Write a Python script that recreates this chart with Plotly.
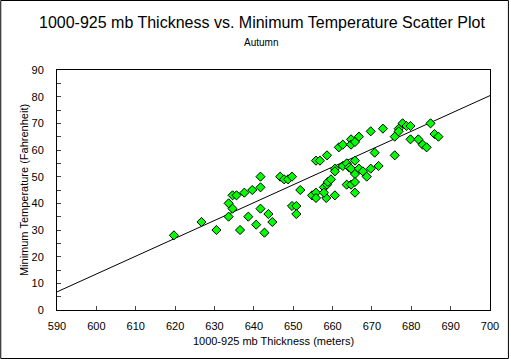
import plotly.graph_objects as go

thickness_m = [619.7, 626.7, 630.5, 633.6, 634.6, 635.6, 634.6, 633.6, 637.6, 639.6,
               641.7, 641.7, 636.5, 638.6, 640.6, 641.7, 643.7, 644.7, 642.7, 646.7,
               647.7, 648.7, 649.7, 651.8, 654.8, 655.8, 655.8, 657.8, 658.6, 658.8,
               659.6, 658.4, 657.8, 660.6, 655.8, 656.8, 658.6, 660.6, 660.6, 661.6,
               662.6, 664.7, 664.7, 665.7, 666.7, 669.7, 672.8, 662.6, 663.6, 664.2,
               664.7, 665.7, 665.7, 666.7, 667.7, 668.7, 669.7, 670.7, 671.7, 663.6,
               664.7, 665.7, 665.7, 649.7, 650.8, 650.8, 677.8, 678.8, 679.8, 676.8,
               676.8, 675.8, 684.9, 679.8, 681.8, 682.9, 683.9, 685.9, 686.9, 675.8]
min_temp_f = [28, 33, 30, 40, 43, 43, 38, 35, 44, 45,
              50, 46, 30, 35, 32, 38, 36, 33, 29, 50,
              49, 49, 50, 45, 43, 44, 42, 46, 47, 48,
              49, 42, 44, 43, 56, 56, 58, 53, 52, 61,
              62, 64, 62, 63, 65, 67, 68, 54, 55, 53.5,
              53, 56, 51, 53, 52, 50, 53, 59, 54, 47,
              47, 48, 44, 39, 39, 36, 70, 69, 69, 68,
              67, 65, 70, 64, 64, 62, 61, 66, 65, 58]

trend_x = [590, 700]
trend_y = [6.8, 80.4]

x_ticks = list(range(590, 701, 10))
y_ticks = list(range(0, 91, 10))

FONT = "Liberation Sans, Arial, sans-serif"
W, H = 511, 359
ML, MR, MT, MB = 57, 19, 70, 49
PW, PH = W - ML - MR, H - MT - MB

fig = go.Figure()
fig.add_trace(go.Scatter(x=trend_x, y=trend_y, mode="lines",
                         line=dict(color="black", width=1), hoverinfo="skip"))
fig.add_trace(go.Scatter(x=thickness_m, y=min_temp_f, mode="markers",
                         marker=dict(symbol="diamond", size=7, color="#00ff00",
                                     line=dict(color="#000000", width=1))))

fig.update_layout(
    width=W, height=H, showlegend=False,
    margin=dict(l=ML, r=MR, t=MT, b=MB, pad=0),
    paper_bgcolor="white", plot_bgcolor="white",
    font=dict(family=FONT, size=11, color="black"),
    xaxis=dict(range=[590, 700], tickvals=x_ticks, ticks="inside", ticklen=4,
               showline=True, linecolor="black", linewidth=1, mirror=True,
               showgrid=False, zeroline=False, ticklabelstandoff=6,
               title=dict(text="1000-925 mb Thickness (meters)", standoff=6,
                          font=dict(size=11))),
    yaxis=dict(range=[0, 90], tickvals=y_ticks, ticks="inside", ticklen=4,
               showline=True, linecolor="black", linewidth=1, mirror=True,
               showgrid=False, zeroline=False, ticklabelstandoff=10,
               minor=dict(dtick=5, ticks="inside", ticklen=4, showgrid=False),
               title=dict(text="Minimum Temperature (Fahrenheit)", standoff=0,
                          font=dict(size=11))),
    annotations=[
        dict(text="1000-925 mb Thickness vs. Minimum Temperature Scatter Plot",
             xref="paper", yref="paper", x=(263 - ML) / PW, y=1 + (MT - 22) / PH,
             xanchor="center", yanchor="middle", showarrow=False,
             font=dict(size=16, family=FONT)),
        dict(text="Autumn", xref="paper", yref="paper", x=(262 - ML) / PW,
             y=1 + (MT - 43) / PH, xanchor="center", yanchor="middle",
             showarrow=False, font=dict(size=10, family=FONT)),
    ],
    shapes=[dict(type="rect", xref="paper", yref="paper",
                 x0=-(ML - 0.5) / PW, x1=1 + (MR - 0.5) / PW,
                 y0=-(MB - 0.5) / PH, y1=1 + (MT - 0.5) / PH,
                 line=dict(color="black", width=1), layer="above")],
)

fig.write_html("out.html", config={"displayModeBar": False},
               post_script="document.body.style.margin='0';"
                           "document.body.style.overflow='hidden';")
